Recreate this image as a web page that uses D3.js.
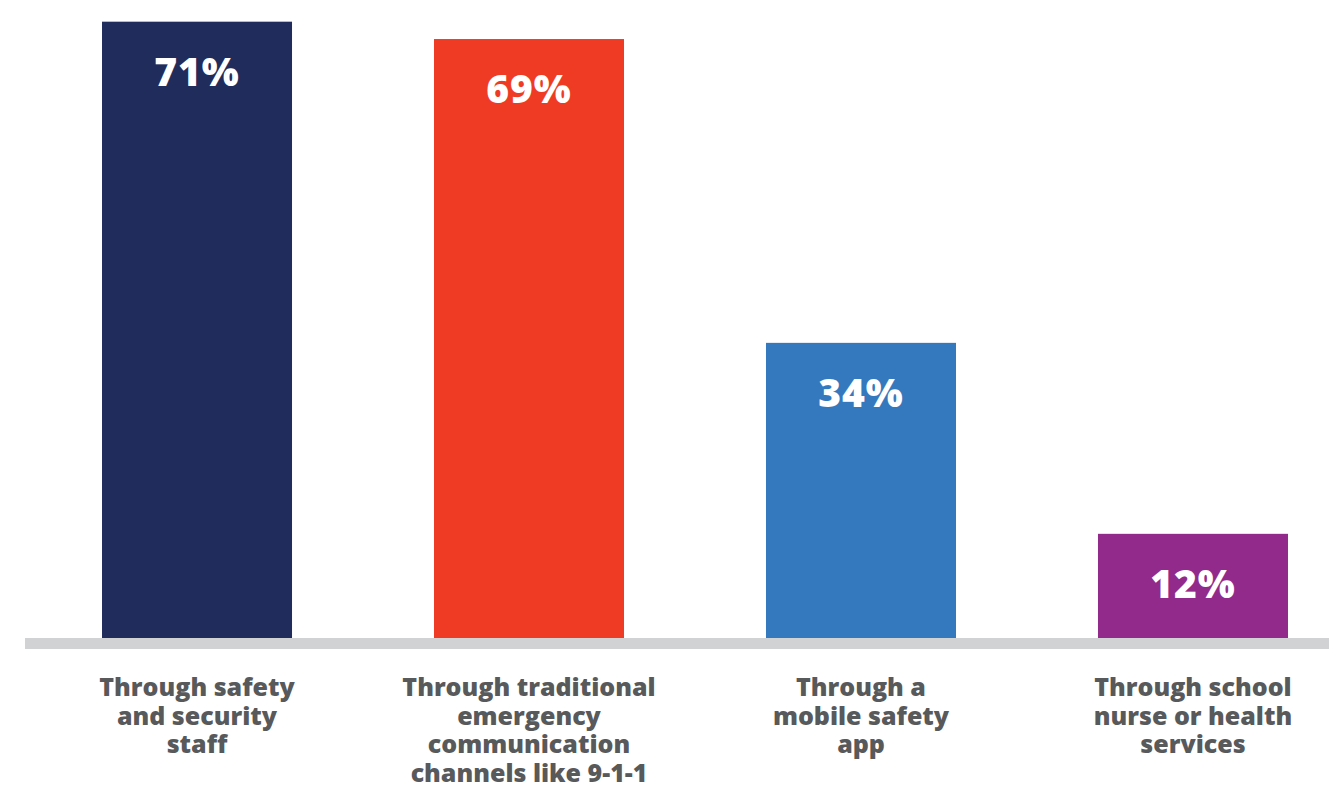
<!DOCTYPE html>
<html>
<head>
<meta charset="utf-8">
<script src="https://cdn.jsdelivr.net/npm/d3@7"></script>
<style>
  html, body { margin: 0; padding: 0; background: #ffffff; }
  svg { display: block; }
</style>
</head>
<body>
<svg id="chart" width="1339" height="788"></svg>
<script>
// Ways of reaching help, share of respondents (%)
const categories = [
  ["Through safety", "and security", "staff"],
  ["Through traditional", "emergency", "communication", "channels like 9-1-1"],
  ["Through a", "mobile safety", "app"],
  ["Through school", "nurse or health", "services"]
];
const values = [71, 69, 34, 12];
const barColors = ["#1f2c5c", "#ef3b24", "#3479bd", "#922a8c"];

const svg = d3.select("#chart");
const baseline = 638;

const x = d3.scaleBand()
  .domain(d3.range(values.length))
  .range([31, 1359])
  .paddingInner(0.4277)
  .paddingOuter(0.2139);

const y = d3.scaleLinear()
  .domain([0, 72])
  .range([baseline, 13]);

// bars
svg.append("g").selectAll("rect")
  .data(values)
  .join("rect")
  .attr("x", (d, i) => x(i))
  .attr("y", d => y(d))
  .attr("width", x.bandwidth())
  .attr("height", d => baseline - y(d))
  .attr("fill", (d, i) => barColors[i]);

// baseline rule
svg.append("rect")
  .attr("x", 25)
  .attr("y", baseline)
  .attr("width", 1329 - 25)
  .attr("height", 11)
  .attr("fill", "#d1d2d4");

// value labels inside the bars
svg.append("g").selectAll("text")
  .data(values)
  .join("text")
  .attr("x", (d, i) => x(i) + x.bandwidth() / 2)
  .attr("y", d => Math.min(y(d) + 64, (y(d) + baseline) / 2 + 14))
  .attr("text-anchor", "middle")
  .attr("fill", "#ffffff")
  .style("font-family", "'Open Sans', Lato, sans-serif")
  .style("font-weight", 800)
  .style("font-size", "39px")
  .style("letter-spacing", "1px")
  .text(d => d + "%");

// category labels under the axis
const cat = svg.append("g").selectAll("text")
  .data(categories)
  .join("text")
  .attr("text-anchor", "middle")
  .attr("fill", "#58595b")
  .style("font-family", "'Open Sans', Lato, sans-serif")
  .style("font-weight", 800)
  .style("font-size", "25px")
  .attr("transform", (d, i) => `translate(${x(i) + x.bandwidth() / 2},696)`);

cat.selectAll("tspan")
  .data(d => d)
  .join("tspan")
  .attr("x", 0)
  .attr("y", (d, j) => j * 28.5)
  .text(d => d);
</script>
</body>
</html>
